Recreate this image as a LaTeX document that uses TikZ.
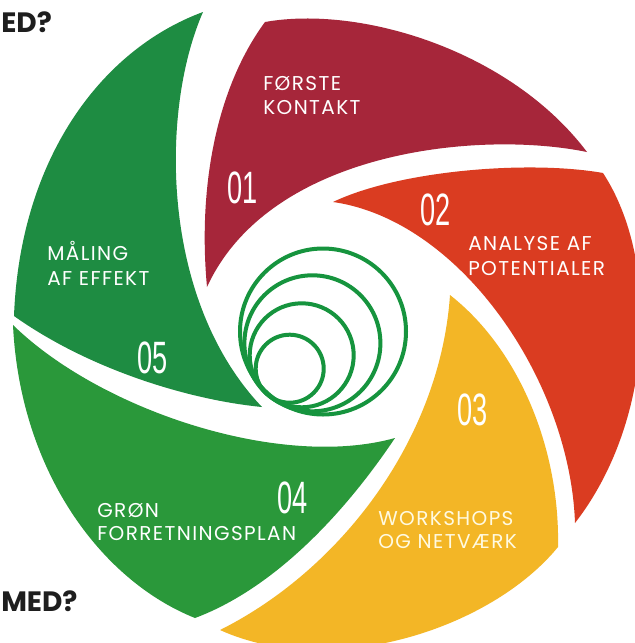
\documentclass[tikz,border=0pt]{standalone}
\usepackage{fontspec}
\setmainfont{Poppins}
\newfontfamily\labfont{Poppins}[LetterSpace=7]
\newfontfamily\numfont{Liberation Sans}
\definecolor{cMaroon}{RGB}{166,38,58}
\definecolor{cOrange}{RGB}{218,60,33}
\definecolor{cYellow}{RGB}{243,182,38}
\definecolor{cGreenA}{RGB}{42,152,58}
\definecolor{cGreenB}{RGB}{30,140,66}
\definecolor{cRing}{RGB}{22,148,62}
\definecolor{cHead}{RGB}{30,30,30}
\definecolor{cCream}{RGB}{255,250,225}
\begin{document}
\begin{tikzpicture}[x=0.75pt,y=-0.75pt,
  lab/.style={font=\labfont\fontsize{15}{18}\selectfont, text=white, inner sep=0pt, anchor=base west},
  num/.style={font=\numfont\fontsize{34}{34}\selectfont, text=white, inner sep=0pt, anchor=base west},
  head/.style={font=\bfseries\fontsize{21}{24}\selectfont, text=cHead, inner sep=0pt, anchor=base west},
  ring/.style={draw=cRing, line width=3pt}]
\useasboundingbox (0,0) rectangle (635,643);
\clip (0,0) rectangle (635,643);
\fill[white] (0,0) rectangle (635,643);

% blade 01
\fill[cMaroon] (265,22) .. controls (360,5) and (510,50) .. (587,152)
  .. controls (480,130) and (270,150) .. (207,287)
  .. controls (198,190) and (215,90) .. (265,22) -- cycle;
% blade 02
\fill[cOrange] (333,202) .. controls (400,170) and (530,160) .. (603,173)
  .. controls (660,260) and (655,420) .. (575,523)
  .. controls (570,380) and (460,220) .. (333,202) -- cycle;
% blade 03
\fill[cYellow] (450,295) .. controls (520,350) and (560,450) .. (558,547)
  .. controls (490,630) and (330,680) .. (220,630)
  .. controls (340,570) and (440,440) .. (450,295) -- cycle;
% blade 04
\fill[cGreenA] (13,325) .. controls (100,410) and (280,470) .. (395,438)
  .. controls (340,520) and (270,590) .. (195,618)
  .. controls (100,580) and (20,470) .. (13,325) -- cycle;
% blade 05
\fill[cGreenB] (14,316) .. controls (90,370) and (190,400) .. (262,407)
  .. controls (160,300) and (160,110) .. (203,12)
  .. controls (100,50) and (20,160) .. (14,316) -- cycle;

% rings
\draw[ring] (323,331.5) circle[radius=83];
\draw[ring] (312.4,343.3) circle[radius=68];
\draw[ring] (301.7,355.3) circle[radius=52];
\draw[ring] (289.7,368.7) circle[radius=34];

% numbers
\node[num] (n1) at (227,203) {\scalebox{0.6}[1]{01}};
\node[num] (n2) at (420,225) {\scalebox{0.6}[1]{02}};
\node[num] (n3) at (457,425) {\scalebox{0.6}[1]{03}};
\node[num] (n4) at (277,513) {\scalebox{0.6}[1]{04}};
\node[num] (n5) at (137,373) {\scalebox{0.6}[1]{05}};

% labels
\node[lab] (l1a) at (263,90) {FØRSTE};
\node[lab] (l1b) at (263,114) {KONTAKT};
\node[lab] (l2a) at (468,250) {ANALYSE AF};
\node[lab] (l2b) at (468,275) {POTENTIALER};
\node[lab, text=cCream] (l3a) at (378,525) {WORKSHOPS};
\node[lab, text=cCream] (l3b) at (378,548) {OG NETVÆRK};
\node[lab] (l4a) at (97,517) {GRØN};
\node[lab] (l4b) at (97,540) {FORRETNINGSPLAN};
\node[lab] (l5a) at (47,260) {MÅLING};
\node[lab] (l5b) at (47,285) {AF EFFEKT};

% headings
\node[head] (h1) at (1,32) {ED?};
\node[head] (h2) at (1,611) {MED?};
\end{tikzpicture}
\end{document}
